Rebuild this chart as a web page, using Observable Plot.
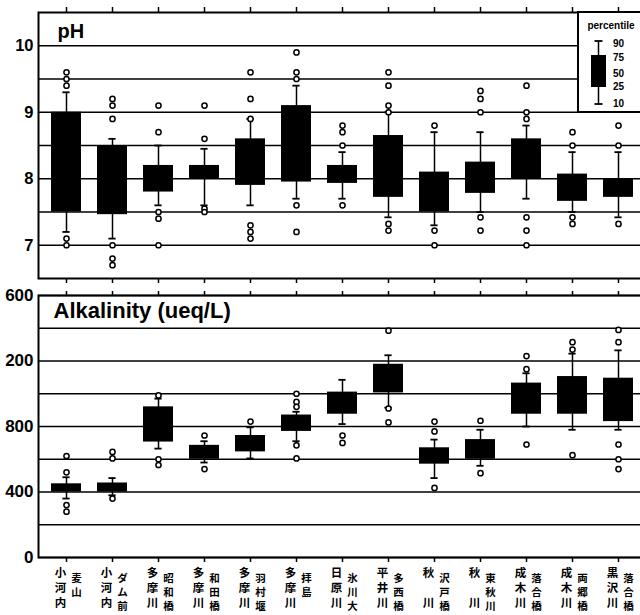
<!DOCTYPE html>
<html><head><meta charset="utf-8">
<script src="https://cdn.jsdelivr.net/npm/d3@7"></script>
<script src="https://cdn.jsdelivr.net/npm/@observablehq/plot@0.6"></script>
<style>
html,body{margin:0;padding:0;overflow:hidden;background:#fff;}
#wrap{position:relative;width:640px;height:615px;overflow:hidden;}
#wrap svg{display:block;}
#legend{position:absolute;left:577px;top:11px;}
</style></head><body><div id="wrap"></div>
<script>
// ---- categories ----
const rivers = ["小河内","小河内","多摩川","多摩川","多摩川","多摩川","日原川","平井川","秋　川","秋　川","成木川","成木川","黒沢川"];
const sites  = ["麦山","ダム前","昭和橋","和田橋","羽村堰","拝島","氷川大橋","多西橋","沢戸橋","東秋川橋","落合橋","両郷橋","落合橋"];
const categories = rivers.map((r, i) => r + "・" + sites[i]);

// ---- pH (percentiles 10/25/75/90 and outliers) ----
const phP10 = [7.2, 7.1, 7.6, 7.6, 7.6, 7.7, 7.7, 7.42, 7.3, 7.5, 7.7, 7.5, 7.42];
const phP25 = [7.5, 7.46, 7.8, 8.0, 7.9, 7.95, 7.93, 7.72, 7.5, 7.78, 8.0, 7.66, 7.72];
const phP75 = [9.0, 8.5, 8.2, 8.2, 8.6, 9.1, 8.2, 8.65, 8.1, 8.25, 8.6, 8.07, 8.0];
const phP90 = [9.3, 8.6, 8.5, 8.45, 8.9, 9.4, 8.4, 9.0, 8.7, 8.7, 8.8, 8.4, 8.4];
const phOut = [
  [9.6, 9.5, 9.4, 7.1, 7.0],
  [9.2, 9.1, 8.9, 7.0, 6.8, 6.7],
  [9.1, 8.7, 7.5, 7.4, 7.0],
  [9.1, 8.6, 7.55, 7.5],
  [9.6, 9.2, 8.9, 7.3, 7.2, 7.1],
  [9.9, 9.6, 9.5, 7.6, 7.2],
  [8.8, 8.7, 8.5, 7.6],
  [9.6, 9.4, 9.1, 9.0, 7.32, 7.22],
  [8.8, 7.22, 7.0],
  [9.32, 9.2, 9.0, 7.42, 7.22],
  [9.4, 9.0, 8.9, 7.42, 7.22, 7.0],
  [8.7, 8.5, 7.42, 7.32],
  [8.8, 8.5, 7.32]
];
const phGrid = [7, 7.5, 8, 8.5, 9, 9.5, 10];
const phTicks = [7, 8, 9, 10];
const phTickLabels = ["7", "8", "9", "10"];

// ---- Alkalinity (ueq/L) ----
const alkP10 = [360, 380, 665, 580, 605, 710, 815, 915, 485, 560, 800, 780, 780];
const alkP25 = [400, 400, 705, 600, 645, 770, 875, 1005, 570, 600, 875, 875, 830];
const alkP75 = [450, 455, 920, 685, 745, 870, 1010, 1180, 670, 720, 1065, 1105, 1095];
const alkP90 = [490, 485, 970, 710, 795, 890, 1085, 1235, 720, 780, 1125, 1245, 1265];
const alkOut = [
  [620, 520, 320, 280],
  [645, 605, 360],
  [990, 600, 565],
  [745, 540],
  [830],
  [1000, 950, 920, 685, 605],
  [745, 700],
  [1385, 910, 825],
  [830, 770, 425],
  [835, 515],
  [1230, 1150, 690],
  [1315, 1270, 625],
  [1390, 1315, 690, 600, 540]
];
const alkGrid = [0, 200, 400, 600, 800, 1000, 1200, 1400, 1600];
const alkTicks = [0, 400, 800, 1200, 1600];
const alkTickLabels = ["0", "400", "800", "200", "600"];

// legend
const legendLabels = ["90", "75", "50", "25", "10"];

// ---- build rows ----
const phRows = categories.map((c, i) => ({cat: c, lo: phP10[i], q1: phP25[i], q3: phP75[i], hi: phP90[i]}));
const phPts = categories.flatMap((c, i) => phOut[i].map(v => ({cat: c, v})));
const alkRows = categories.map((c, i) => ({cat: c, lo: alkP10[i], q1: alkP25[i], q3: alkP75[i], hi: alkP90[i]}));
const alkPts = categories.flatMap((c, i) => alkOut[i].map(v => ({cat: c, v})));
const labelRows = categories.map((c, i) => ({cat: c, river: rivers[i].split("").join("\n"), site: sites[i].split("").join("\n")}));

const FONT = "'Liberation Sans', Arial, Helvetica, sans-serif";
const xOpts = {domain: categories, paddingInner: 0.34, paddingOuter: 0.17};
const capInset = 11.4;

function boxMarks(rows, pts) {
  return [
    Plot.ruleX(rows, {x: "cat", y1: "lo", y2: "hi", strokeWidth: 1.5, stroke: "black"}),
    Plot.tickY(rows, {x: "cat", y: "lo", insetLeft: capInset, insetRight: capInset, strokeWidth: 1.8, stroke: "black"}),
    Plot.tickY(rows, {x: "cat", y: "hi", insetLeft: capInset, insetRight: capInset, strokeWidth: 1.8, stroke: "black"}),
    Plot.barY(rows, {x: "cat", y1: "q1", y2: "q3", fill: "black"}),
    Plot.dot(pts, {x: "cat", y: "v", r: 2.6, stroke: "black", fill: "white", strokeWidth: 1.5})
  ];
}

const phLabelMap = new Map(phTicks.map((t, i) => [t, phTickLabels[i]]));
const ph = Plot.plot({
  width: 640, height: 290,
  marginTop: 12, marginBottom: 12, marginLeft: 38, marginRight: -6,
  x: xOpts,
  y: {domain: [6.5, 10.5]},
  style: {fontFamily: FONT, color: "black", background: "white", overflow: "visible"},
  marks: [
    Plot.ruleY(phGrid, {strokeWidth: 1.4, stroke: "black"}),
    Plot.frame({strokeWidth: 2, stroke: "black"}),
    Plot.axisX({anchor: "top", tickSize: 6, tickFormat: () => "", strokeWidth: 1.5, label: null}),
    Plot.axisX({anchor: "bottom", tickSize: 5, tickFormat: () => "", strokeWidth: 1.5, label: null}),
    Plot.axisY({ticks: phTicks, tickFormat: d => phLabelMap.get(d), tickSize: 0, tickPadding: 5, fontSize: 16.5, fontWeight: "bold", label: null}),
    ...boxMarks(phRows, phPts),
    Plot.text(["pH"], {frameAnchor: "top-left", dx: 19, dy: 11, fontSize: 20, fontWeight: "bold"})
  ]
});

const alkLabelMap = new Map(alkTicks.map((t, i) => [t, alkTickLabels[i]]));
const alk = Plot.plot({
  width: 640, height: 325,
  marginTop: 5, marginBottom: 58, marginLeft: 38, marginRight: -6,
  x: xOpts,
  y: {domain: [0, 1600]},
  style: {fontFamily: FONT, color: "black", background: "white", overflow: "visible"},
  marks: [
    Plot.ruleY(alkGrid, {strokeWidth: 1.4, stroke: "black"}),
    Plot.frame({strokeWidth: 2, stroke: "black"}),
    Plot.axisX({anchor: "top", tickSize: 5, tickFormat: () => "", strokeWidth: 1.5, label: null}),
    Plot.axisX({anchor: "bottom", tickSize: 5, tickFormat: () => "", strokeWidth: 1.5, label: null}),
    Plot.axisY({ticks: alkTicks, tickFormat: d => alkLabelMap.get(d), tickSize: 0, tickPadding: 5, fontSize: 17, fontWeight: "bold", label: null}),
    ...boxMarks(alkRows, alkPts),
    Plot.text(["Alkalinity (ueq/L)"], {frameAnchor: "top-left", dx: 15, dy: 7, fontSize: 22, fontWeight: "bold"}),
    Plot.text(labelRows, {x: "cat", text: "river", frameAnchor: "bottom", lineAnchor: "top", dx: -6, dy: 9, fontSize: 11.5, lineHeight: 1.3, fontWeight: "bold", fontFamily: "'Noto Sans CJK JP', sans-serif"}),
    Plot.text(labelRows, {x: "cat", text: "site", frameAnchor: "bottom", lineAnchor: "top", dx: 10, dy: 14, fontSize: 10.5, lineHeight: 1.36, fontWeight: "bold", fontFamily: "'Noto Sans CJK JP', sans-serif"})
  ]
});

const wrap = document.getElementById("wrap");
wrap.appendChild(ph);
wrap.appendChild(alk);

// legend box (percentile key)
const ys = [41, 55, 72, 87, 104];
const legend = document.createElement("div");
legend.id = "legend";
legend.innerHTML = `<svg width="80" height="104" style="font-family:${FONT.replace(/'/g, "")};font-weight:bold">
  <rect x="1" y="1" width="90" height="100" fill="white" stroke="black" stroke-width="2"/>
  <text x="34" y="18" font-size="10" text-anchor="middle">percentile</text>
  <line x1="21.5" x2="21.5" y1="${ys[0]-11}" y2="${ys[4]-11}" stroke="black" stroke-width="1.5"/>
  <line x1="17.5" x2="25.5" y1="${ys[0]-11}" y2="${ys[0]-11}" stroke="black" stroke-width="1.8"/>
  <line x1="17.5" x2="25.5" y1="${ys[4]-11}" y2="${ys[4]-11}" stroke="black" stroke-width="1.8"/>
  <rect x="14" y="${ys[1]-11}" width="15" height="${ys[3]-ys[1]}" fill="black"/>
  ${legendLabels.map((t, i) => `<text x="36" y="${[43,57,73,86,103][i]-11}" font-size="10" dy="0.35em">${t}</text>`).join("")}
</svg>`;
wrap.appendChild(legend);
</script>
</body></html>
